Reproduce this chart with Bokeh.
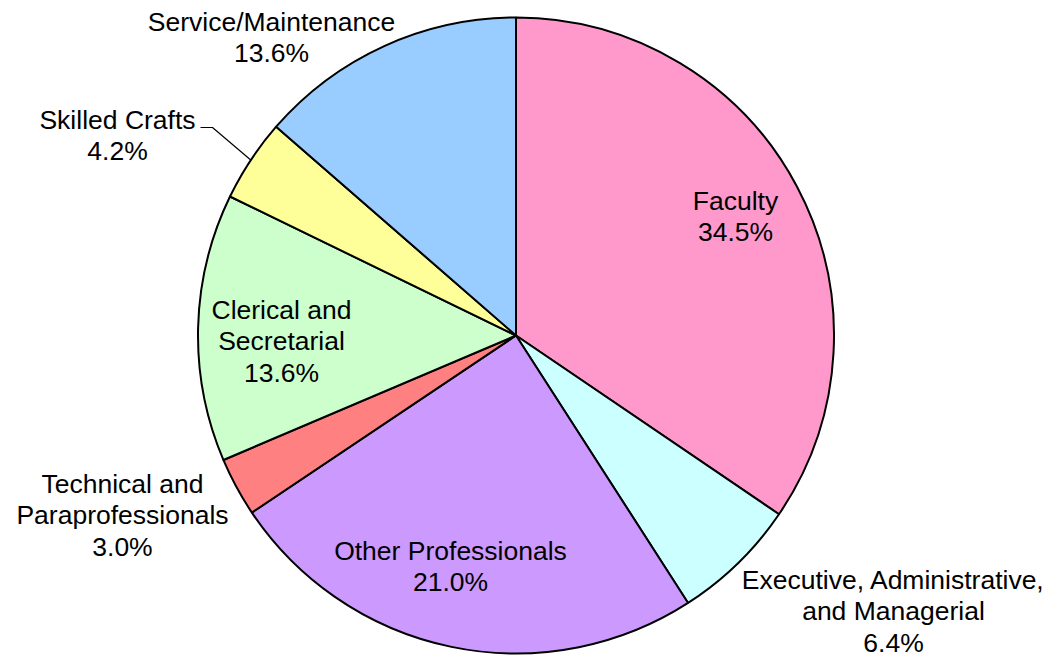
from math import sin, cos, pi
from bokeh.plotting import figure
from bokeh.models import Range1d, ColumnDataSource
from bokeh.core.properties import value
from bokeh.embed import file_html
from bokeh.resources import INLINE

# ---- data (clockwise from 12 o'clock) ----
categories = ["Faculty", "Executive, Administrative,\nand Managerial", "Other Professionals",
              "Technical and\nParaprofessionals", "Clerical and\nSecretarial", "Skilled Crafts",
              "Service/Maintenance"]
shares = [34.5, 6.4, 24.7, 3.0, 13.6, 4.2, 13.6]          # slice sizes as drawn
pct_labels = ["34.5%", "6.4%", "21.0%", "3.0%", "13.6%", "4.2%", "13.6%"]  # printed labels
colors = ["#FF99CC", "#CCFFFF", "#CC99FF", "#FF8080", "#CCFFCC", "#FFFF99", "#99CCFF"]

# ---- layout ----
W, H = 1049, 657
CX, CY, R = 515.5, 335.0, 318.0   # screen px
label_pos = [(735, 216), (893, 611), (450, 566), (122, 515), (281, 341), (117, 135), (271, 37)]
FONT = "Liberation Sans"
FS = 26.5

p = figure(width=W, height=H, x_range=Range1d(0, W), y_range=Range1d(-H, 0),
           output_backend="svg", toolbar_location=None, x_axis_type=None, y_axis_type=None,
           min_border=0)
p.outline_line_color = None
p.grid.visible = False

total = sum(shares)
starts, ends, mids = [], [], []
acc = 0.0
for s in shares:
    t0 = acc / total * 2 * pi
    acc += s
    t1 = acc / total * 2 * pi
    starts.append(pi / 2 - t0)
    ends.append(pi / 2 - t1)
    mids.append((t0 + t1) / 2)

src = ColumnDataSource(dict(x=[CX] * len(shares), y=[-CY] * len(shares),
                            start=starts, end=ends, color=colors))
p.wedge(x="x", y="y", radius=R, radius_units="data", start_angle="start", end_angle="end",
        direction="clock", fill_color="color", line_color="black", line_width=2, source=src)

# labels
texts = [c + "\n" + pc for c, pc in zip(categories, pct_labels)]
lsrc = ColumnDataSource(dict(x=[lp[0] for lp in label_pos], y=[-lp[1] for lp in label_pos], t=texts))
p.text(x="x", y="y", text="t", source=lsrc, text_font=value(FONT), text_font_size=f"{FS}px",
       text_align="center", text_baseline="middle", text_line_height=1.04, text_color="black")

# leader line for Skilled Crafts
i = categories.index("Skilled Crafts")
ex = CX + R * sin(mids[i])
ey = CY - R * cos(mids[i])
p.line(x=[200, 212, ex], y=[-127, -127, -ey], line_color="black", line_width=1.2)

open("out.html", "w").write(file_html(p, INLINE))
